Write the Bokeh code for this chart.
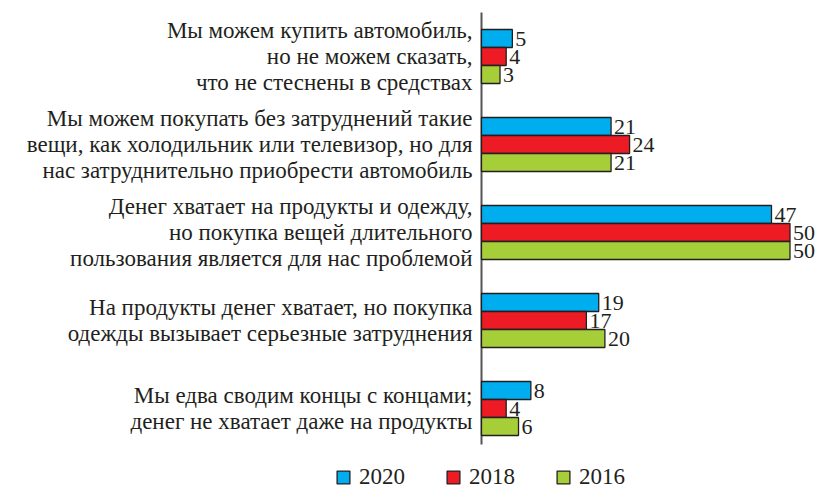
from bokeh.plotting import figure
from bokeh.models import ColumnDataSource, LabelSet, Legend, LegendItem, Range1d
from bokeh.embed import file_html
from bokeh.resources import INLINE

categories = [
    ["Мы можем купить автомобиль,", "но не можем сказать,", "что не стеснены в средствах"],
    ["Мы можем покупать без затруднений такие", "вещи, как холодильник или телевизор, но для",
     "нас затруднительно приобрести автомобиль"],
    ["Денег хватает на продукты и одежду,", "но покупка вещей длительного",
     "пользования является для нас проблемой"],
    ["На продукты денег хватает, но покупка", "одежды вызывает серьезные затруднения"],
    ["Мы едва сводим концы с концами;", "денег не хватает даже на продукты"],
]
years = ["2020", "2018", "2016"]
v2020 = [5, 21, 47, 19, 8]
v2018 = [4, 24, 50, 17, 4]
v2016 = [3, 21, 50, 20, 6]
colors = ["#00aeef", "#ed1c24", "#a6ce39"]

TXT = "#231f20"
FONT = "'Liberation Serif', serif"

W, H = 817, 490
LEFT = 481          # px position of value axis
XS = 6.17           # px per percent
YS = 88.0           # px per category
TOP = 12            # px of axis top
LINE = 26.0         # px between label lines

n = len(categories)
ypos = [n - i for i in range(n)]  # top to bottom
bh = 18 / YS
offsets = [bh, 0.0, -bh]

y_hi = n + 0.5 + TOP / YS
y_lo = y_hi - H / YS
p = figure(width=W, height=H, output_backend="svg", toolbar_location=None,
           x_axis_type=None, y_axis_type=None,
           x_range=Range1d(-LEFT / XS, (W - LEFT) / XS), y_range=Range1d(y_lo, y_hi),
           min_border=0)
p.outline_line_color = None
p.background_fill_color = "white"
p.xgrid.visible = False
p.ygrid.visible = False

# value axis line
p.segment(x0=[0], x1=[0], y0=[n + 0.5 - 432 / YS], y1=[n + 0.5], line_color="#555555", line_width=2)

renderers = []
for vals, off, col, yr in zip([v2020, v2018, v2016], offsets, colors, years):
    src = ColumnDataSource(dict(y=[y + off for y in ypos], v=vals, t=[str(v) for v in vals]))
    r = p.hbar(y="y", right="v", left=0, height=bh, source=src,
               fill_color=col, line_color=TXT, line_width=1.3)
    renderers.append((yr, r))
    p.add_layout(LabelSet(x="v", y="y", text="t", source=src, x_offset=3,
                          text_baseline="middle", text_align="left",
                          text_font=FONT, text_font_size="22px", text_color=TXT))

ly, lt = [], []
for y, lines in zip(ypos, categories):
    m = len(lines)
    for k, s in enumerate(lines):
        ly.append(y + ((m - 1) / 2 - k) * LINE / YS)
        lt.append(s)
csrc = ColumnDataSource(dict(y=ly, t=lt, x=[0] * len(lt)))
p.add_layout(LabelSet(x="x", y="y", text="t", source=csrc, x_offset=-9,
                      text_align="right", text_baseline="middle",
                      text_font=FONT, text_font_size="23px", text_color=TXT))

legend = Legend(items=[LegendItem(label=yr, renderers=[r]) for yr, r in renderers],
                orientation="horizontal", location=(335, 0),
                glyph_width=16, glyph_height=16, label_standoff=8, spacing=40,
                padding=0, margin=0, border_line_color=None, background_fill_alpha=0,
                label_text_font=FONT, label_text_font_size="23px", label_text_color=TXT)
p.add_layout(legend, "center")

open("out.html", "w").write(file_html(p, INLINE))
